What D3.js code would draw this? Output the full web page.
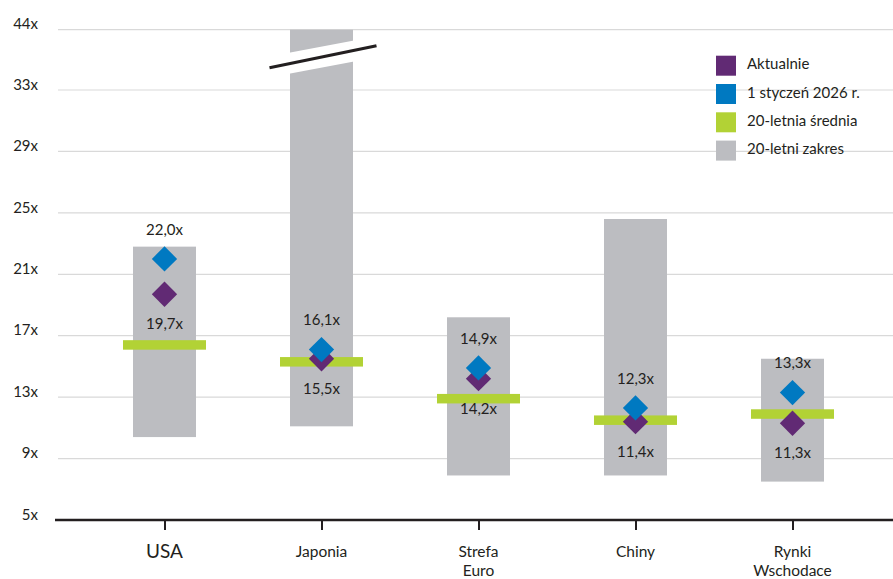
<!DOCTYPE html>
<html>
<head>
<meta charset="utf-8">
<script src="https://cdn.jsdelivr.net/npm/d3@7"></script>
<style>
  body { margin: 0; background: #fff; }
  svg { display: block; font-family: Lato, "Open Sans", sans-serif; }
</style>
</head>
<body>
<div id="chart"></div>
<script>
// data
const categories = ["USA", "Japonia", "Strefa Euro", "Chiny", "Rynki Wschodace"];
const rangeLow = [10.4, 11.1, 7.9, 7.9, 7.5];
const rangeHigh = [22.8, 44, 18.2, 24.6, 15.5];
const average20y = [16.4, 15.3, 12.9, 11.5, 11.9];
const current = [19.7, 15.5, 14.2, 11.4, 11.3];
const jan2026 = [22.0, 16.1, 14.9, 12.3, 13.3];
const yTicks = [5, 9, 13, 17, 21, 25, 29, 33, 44];
const legendLabels = ["Aktualnie", "1 styczeń 2026 r.", "20-letnia średnia", "20-letni zakres"];

const colors = { current: "#612a74", jan: "#0079c1", avg: "#b2d235", range: "#bcbdc1" };
const legendColors = [colors.current, colors.jan, colors.avg, colors.range];

const width = 893, height = 579;
const svg = d3.select("#chart").append("svg")
  .attr("width", width)
  .attr("height", height);

// broken axis: 33 -> 44 is compressed into the top step
const y = d3.scaleLinear().domain([5, 33, 44]).range([520, 90, 29.7]);
const x = d3.scalePoint().domain(categories).range([164.5, 792.5]);
const barW = 63;
const avgW = 83;
const fmt = v => v.toFixed(1).replace(".", ",") + "x";

// gridlines
svg.append("g")
  .selectAll("line")
  .data(yTicks.slice(1))
  .join("line")
  .attr("x1", 58).attr("x2", width)
  .attr("y1", d => y(d)).attr("y2", d => y(d))
  .attr("stroke", "#d9d9d9")
  .attr("stroke-width", 1.2);

// y labels
const yAxis = svg.append("g")
  .attr("transform", "translate(38,0)")
  .call(d3.axisLeft(y).tickValues(yTicks).tickFormat(d => d + "x").tickSize(0).tickPadding(0));
yAxis.select(".domain").remove();
yAxis.selectAll(".tick text")
  .attr("dy", "-0.05em")
  .attr("fill", "#231f20")
  .style("font-size", "15px")
  .style("font-family", "Lato, sans-serif");

// range bars
svg.append("g")
  .selectAll("rect")
  .data(categories)
  .join("rect")
  .attr("x", d => x(d) - barW / 2)
  .attr("width", barW)
  .attr("y", (d, i) => y(rangeHigh[i]))
  .attr("height", (d, i) => y(rangeLow[i]) - y(rangeHigh[i]))
  .attr("fill", colors.range);

// axis break on Japonia bar
const jx = x("Japonia");
const jy = y(39);
const slope = -0.19;
const gap = 10.5;
svg.append("polygon")
  .attr("points", [
    [jx - barW / 2 - 1, jy + slope * (-barW / 2 - 1) - gap],
    [jx + barW / 2 + 1, jy + slope * (barW / 2 + 1) - gap],
    [jx + barW / 2 + 1, jy + slope * (barW / 2 + 1) + gap],
    [jx - barW / 2 - 1, jy + slope * (-barW / 2 - 1) + gap]
  ].map(p => p.join(",")).join(" "))
  .attr("fill", "#fff");
svg.append("line")
  .attr("x1", jx - 52).attr("y1", jy - 0.206 * -52)
  .attr("x2", jx + 55).attr("y2", jy - 0.206 * 55)
  .attr("stroke", "#231f20")
  .attr("stroke-width", 3);

// 20-year average
svg.append("g")
  .selectAll("rect")
  .data(categories)
  .join("rect")
  .attr("x", d => x(d) - avgW / 2)
  .attr("width", avgW)
  .attr("y", (d, i) => y(average20y[i]) - 4.75)
  .attr("height", 9.5)
  .attr("fill", colors.avg);

// diamonds
const diamond = d3.symbol(d3.symbolSquare, 320);
svg.append("g")
  .selectAll("path")
  .data(categories)
  .join("path")
  .attr("d", diamond)
  .attr("transform", (d, i) => `translate(${x(d)},${y(current[i])}) rotate(45)`)
  .attr("fill", colors.current);
svg.append("g")
  .selectAll("path")
  .data(categories)
  .join("path")
  .attr("d", diamond)
  .attr("transform", (d, i) => `translate(${x(d)},${y(jan2026[i])}) rotate(45)`)
  .attr("fill", colors.jan);

// value labels
const labels = svg.append("g")
  .attr("fill", "#231f20")
  .attr("text-anchor", "middle")
  .style("font-size", "15px");
labels.selectAll("text.jan")
  .data(categories)
  .join("text")
  .attr("class", "jan")
  .attr("x", d => x(d))
  .attr("y", (d, i) => y(jan2026[i]) - 28)
  .attr("dominant-baseline", "middle")
  .text((d, i) => fmt(jan2026[i]));
labels.selectAll("text.cur")
  .data(categories)
  .join("text")
  .attr("class", "cur")
  .attr("x", d => x(d))
  .attr("y", (d, i) => y(current[i]) + 31)
  .attr("dominant-baseline", "middle")
  .text((d, i) => fmt(current[i]));

// x axis
svg.append("line")
  .attr("x1", 55).attr("x2", width)
  .attr("y1", 520).attr("y2", 520)
  .attr("stroke", "#231f20")
  .attr("stroke-width", 2.5);
const xAxis = svg.append("g")
  .attr("transform", "translate(0,520)")
  .call(d3.axisBottom(x).tickSize(10).tickFormat(""));
xAxis.select(".domain").remove();
xAxis.selectAll(".tick line").attr("stroke", "#231f20").attr("stroke-width", 2);

const catText = svg.append("g")
  .attr("fill", "#231f20")
  .attr("text-anchor", "middle")
  .selectAll("text")
  .data(categories)
  .join("text")
  .attr("x", d => x(d))
  .attr("y", 553)
  .attr("dominant-baseline", "middle")
  .style("font-size", (d, i) => i === 0 ? "19px" : "15.5px");
catText.selectAll("tspan")
  .data(d => d.split(" "))
  .join("tspan")
  .attr("x", function() { return this.parentNode.getAttribute("x"); })
  .attr("dy", (d, i) => i === 0 ? 0 : 19)
  .text(d => d);

// legend
const legend = svg.append("g").attr("transform", "translate(716,0)");
const row = legend.selectAll("g")
  .data(legendLabels)
  .join("g")
  .attr("transform", (d, i) => `translate(0,${65.7 + i * 28.3})`);
row.append("rect")
  .attr("x", 0).attr("y", -10)
  .attr("width", 20).attr("height", 20)
  .attr("fill", (d, i) => legendColors[i]);
row.append("text")
  .attr("x", 31)
  .attr("dominant-baseline", "middle")
  .attr("fill", "#231f20")
  .style("font-size", "15px")
  .text(d => d);
</script>
</body>
</html>
